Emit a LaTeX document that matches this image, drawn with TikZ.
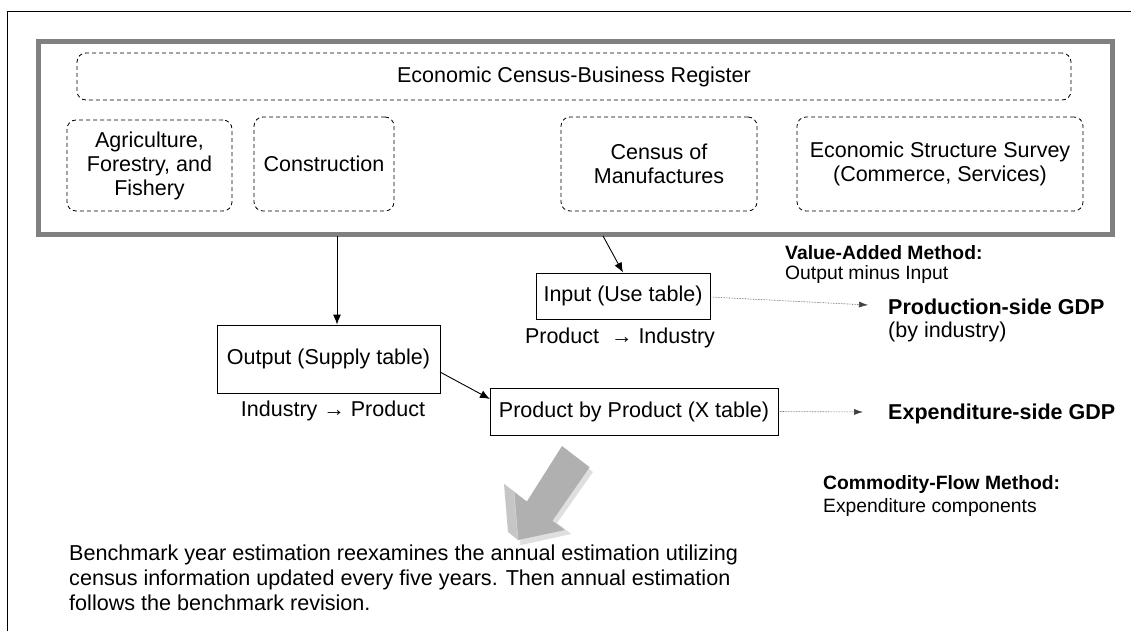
\documentclass[tikz,border=0pt]{standalone}
\usepackage{fontspec}
\setmainfont{Liberation Sans}
\usetikzlibrary{arrows.meta}
\begin{document}
\begin{tikzpicture}[x=1pt,y=-1pt,
  dbox/.style={draw, rounded corners=9pt, dash pattern=on 4pt off 3pt, line width=0.8pt, align=center, font=\fontsize{21.5}{24}\selectfont, inner sep=0pt},
  tbox/.style={draw, line width=0.9pt, inner sep=0pt, align=center, font=\fontsize{21.5}{24}\selectfont},
  lbl/.style={font=\fontsize{21.5}{24}\selectfont, inner sep=0pt},
  big/.style={font=\bfseries\fontsize{21.5}{24}\selectfont, inner sep=0pt, anchor=west},
  small/.style={font=\fontsize{19.3}{20}\selectfont, inner sep=0pt, anchor=west, align=left},
  arr/.style={-{Latex[length=10pt,width=8pt]}, line width=0.9pt},
  dotarr/.style={-{Latex[length=9pt,width=6pt]}, densely dotted, draw=black!75, line width=0.6pt},
]
\useasboundingbox (0,0) rectangle (1131,631);
\fill[white] (0,0) rectangle (1131,631);
\draw[line width=1pt] (7,631) -- (7,12) -- (1131,12);
\node[draw=gray, line width=5pt, minimum width=1074pt, minimum height=192pt] (frame) at (575,138) {};
\node[dbox, minimum width=994pt, minimum height=47pt] (reg) at (574,76.5) {Economic Census-Business Register};
\node[dbox, minimum width=165pt, minimum height=91pt] (agri) at (149.5,165.5) {Agriculture,\\Forestry, and\\Fishery};
\node[dbox, minimum width=140pt, minimum height=94pt] (cons) at (324,164) {Construction};
\node[dbox, minimum width=196pt, minimum height=94pt] (manu) at (659,164) {Census of\\Manufactures};
\node[dbox, minimum width=286pt, minimum height=94pt] (ess) at (940,164) {Economic Structure Survey\\(Commerce, Services)};

\node[tbox, minimum width=174pt, minimum height=46pt] (input) at (623,296) {Input (Use table)};
\node[lbl] (pi) at (620,338) {Product \ → Industry};
\node[tbox, minimum width=223pt, minimum height=68pt] (output) at (328.5,359) {Output (Supply table)};
\node[lbl] (ip) at (333,411) {Industry → Product};
\node[tbox, minimum width=288pt, minimum height=47pt] (pbp) at (634,411.5) {Product by Product (X table)};

\node[small] (vam) at (785,264.5) {\textbf{Value-Added Method:}\\Output minus Input};
\node[big] (prod) at (888,307) {Production-side GDP};
\node[lbl, anchor=west] (byind) at (888,332) {(by industry)};
\node[big] (exp) at (888,414) {Expenditure-side GDP};
\node[small, font=\fontsize{19.3}{23}\selectfont] (cfm) at (823,496.5) {\textbf{Commodity-Flow Method:}\\Expenditure components};

\coordinate (f1) at (337,236);
\coordinate (f2) at (603,236);
\coordinate (o1) at (440,372);
\coordinate (p1) at (490,399);
\coordinate (i1) at (710,297);
\draw[arr] (f1) -- (f1 |- output.north);
\draw[arr] (f2) -- (input.north);
\draw[arr] (o1) -- (p1);
\draw[dotarr] (i1) -- ([xshift=-20pt,yshift=2pt]prod.west);
\draw[dotarr] (pbp.east) -- ([xshift=-25pt,yshift=2pt]exp.west);

% big 3D arrow (pointing down-left)
\fill[gray!15] (516,494) -- (570,533) -- (520,545) -- cycle;
\fill[gray!25] (566,451) -- (593,472) -- (557,523) -- (571,534) -- (521,545) -- (516,495) -- (529,504) -- cycle;
\fill[gray!62] (562,446) -- (589.6,467.2) -- (552.4,520.8) -- (565,530) -- (518,540) -- (514,492) -- (526.8,501.6) -- cycle;
\fill[gray!45] (504,484) -- (514,492) -- (518,540) -- (508,532) -- cycle;
\fill[gray!52] (504,484) -- (514,492) -- (526.8,501.6) -- (516.8,493.6) -- cycle;
\draw[gray!35, line width=0.6pt] (514,492) -- (518,540);

\node[font=\fontsize{21.6}{25}\selectfont, anchor=north west, align=left, inner sep=0pt] (bench) at (69,545) {Benchmark year estimation reexamines the annual estimation utilizing\\census information updated every five years. Then annual estimation\\follows the benchmark revision.};
\end{tikzpicture}
\end{document}
